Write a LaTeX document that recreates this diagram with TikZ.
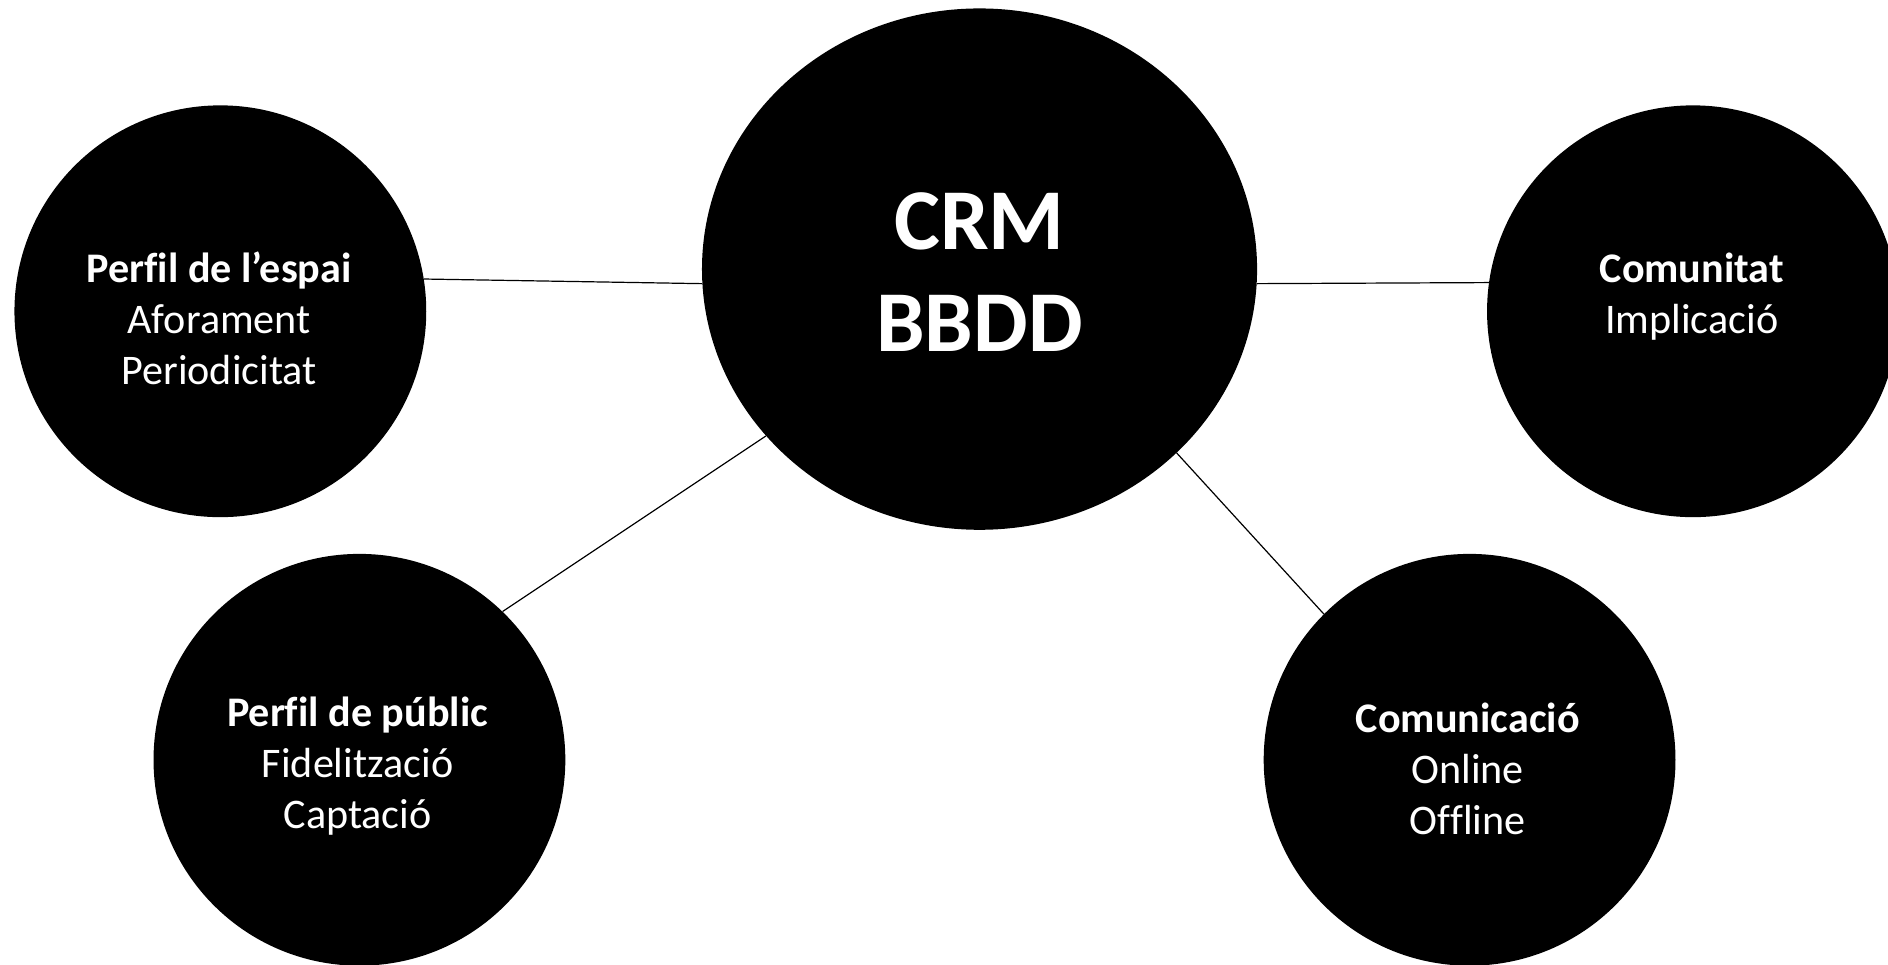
\documentclass[tikz,border=0pt]{standalone}
\usepackage{fontspec}
\setmainfont{Carlito}[Ligatures={NoCommon}]
\usetikzlibrary{shapes.geometric}
\tikzset{
  blob/.style={circle, fill=black, draw=none, minimum size=342pt, inner sep=0pt},
  hub/.style={ellipse, fill=black, draw=none, minimum width=461pt, minimum height=433pt, inner sep=0pt},
  smalltxt/.style={text=white, align=center, inner sep=0pt, font=\fontsize{35}{42.5}\selectfont},
  bigtxt/.style={text=white, align=center, inner sep=0pt, font=\fontsize{72}{85}\selectfont\bfseries},
  link/.style={draw=black, line width=1pt}
}
\begin{document}
\begin{tikzpicture}[x=1pt, y=-1pt]
\useasboundingbox (0,0) rectangle (1568,801);
\clip (0,0) rectangle (1568,801);
\fill[white] (0,0) rectangle (1568,801);
% circles
\node[hub]  (crm)   at (813.5,223.5) {};
\node[blob] (espai) at (183,258.5) {};
\node[blob] (comu)  at (1406,258.5) {};
\node[blob] (publ)  at (298.5,631) {};
\node[blob] (comm)  at (1220.5,631) {};
% connectors
\draw[link] (espai.9) -- (crm.183);
\draw[link] (crm.357) -- (comu.172);
\draw[link] (crm.218) -- (publ.46);
\draw[link] (crm.317) -- (comm.135);
% texts
\node[bigtxt] (crmtxt) at (813.5,232.5) {\strut CRM\\\strut BBDD};
\node[smalltxt] (espaitxt) at (182,268.6) {\strut\textbf{Perfil de l’espai}\\\strut Aforament\\\strut Periodicitat};
\node[smalltxt] (comutxt) at (1405,247.6) {\strut\textbf{Comunitat}\\\strut Implicació};
\node[smalltxt] (publtxt) at (297,637) {\strut\textbf{Perfil de públic}\\\strut Fidelització\\\strut Captació};
\node[smalltxt] (commtxt) at (1219,642) {\strut\textbf{Comunicació}\\\strut Online\\\strut Offline};
\end{tikzpicture}
\end{document}
